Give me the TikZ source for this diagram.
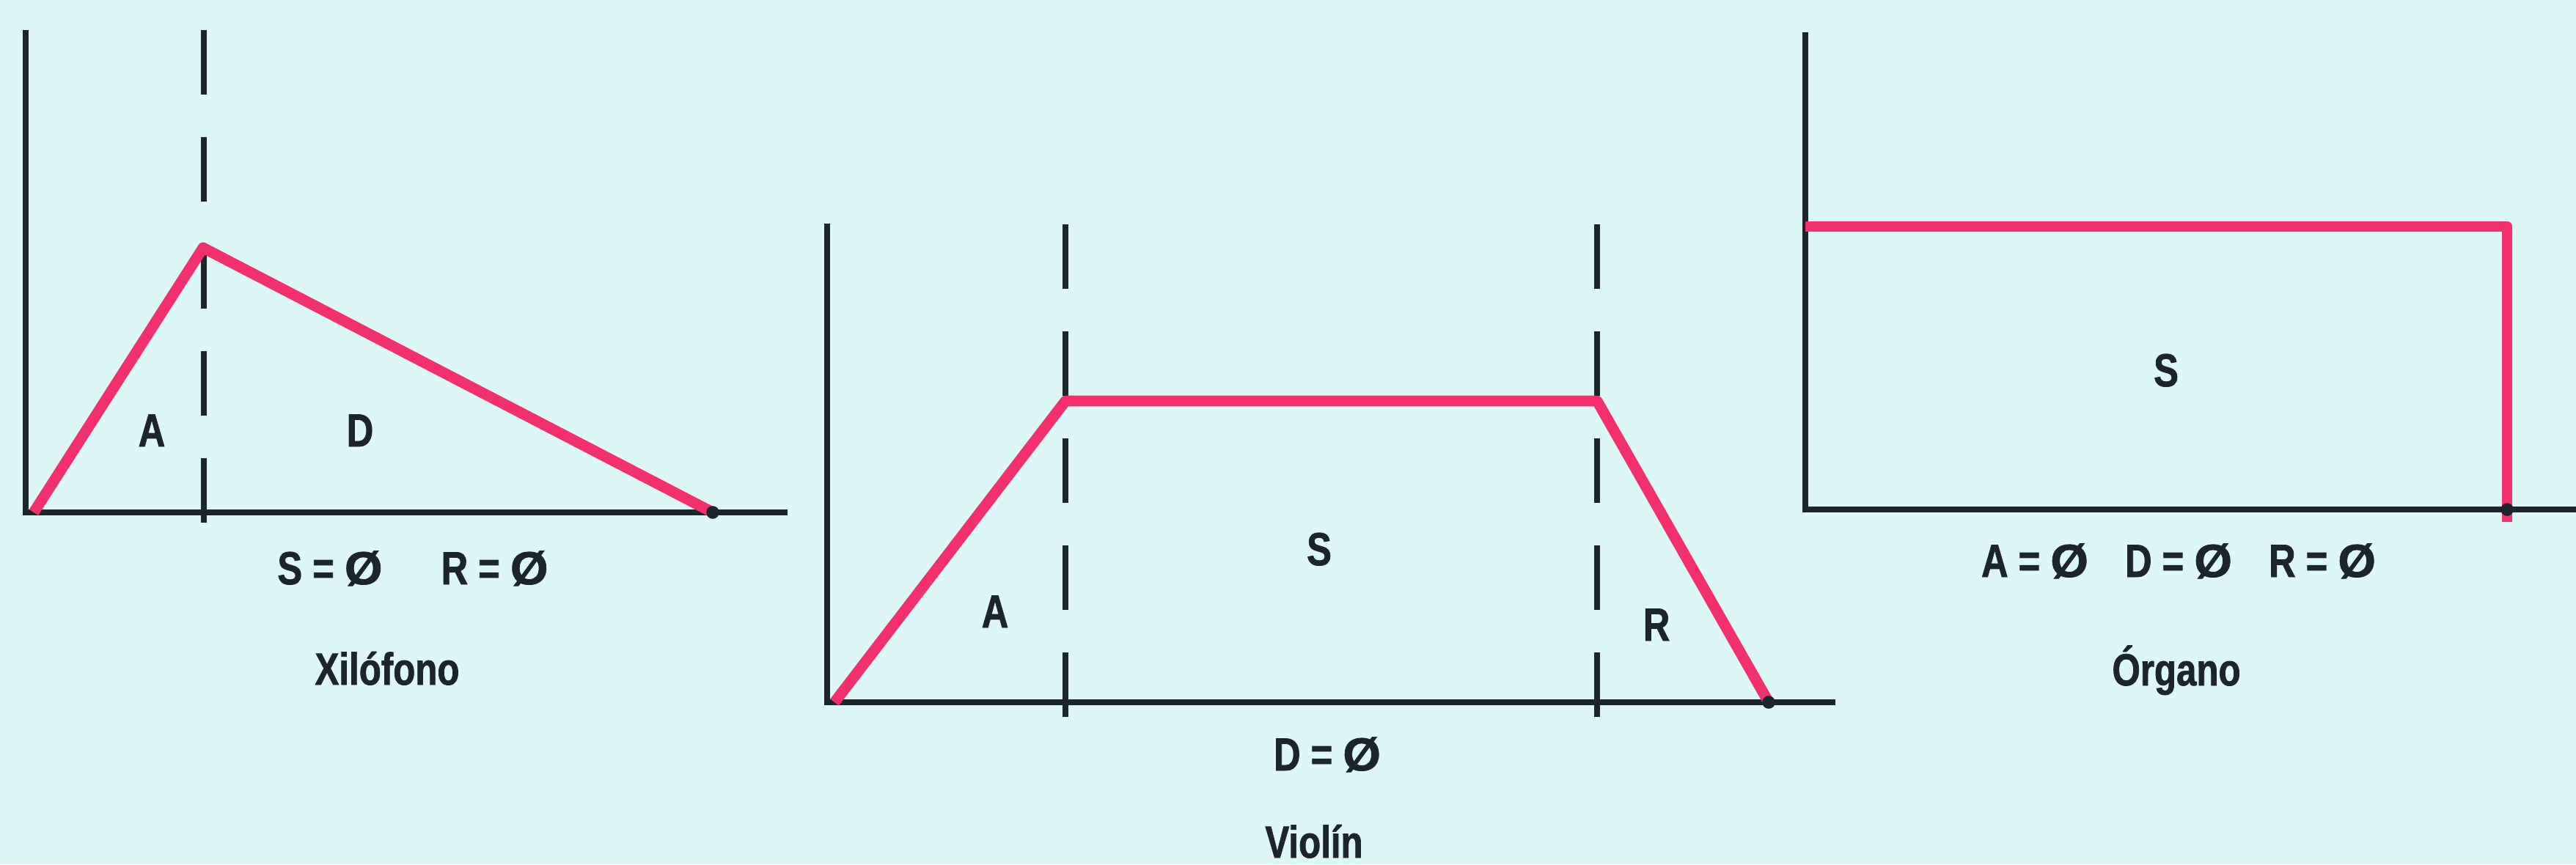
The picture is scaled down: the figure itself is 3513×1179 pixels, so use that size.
\documentclass[tikz,border=0pt]{standalone}
\usepackage{fontspec}
\setsansfont[FakeStretch=0.8,BoldFeatures={FakeBold=1.2}]{Liberation Sans}
\newfontfamily\widesans[FakeStretch=1.05,BoldFeatures={FakeBold=1.2}]{Liberation Sans}
\usepackage{tikz}
\usetikzlibrary{positioning}
\definecolor{paper}{HTML}{DDF6F6}
\definecolor{axisink}{HTML}{1C252B}
\definecolor{envpink}{HTML}{F2306E}
\newcommand{\nulo}{{\widesans\bfseries Ø}}
\tikzset{
  axisline/.style={draw=axisink,line width=2.3pt,line cap=rect},
  phaseline/.style={draw=axisink,line width=2.3pt,dash pattern=on 0.88cm off 0.58cm},
  envline/.style={draw=envpink,line width=4.2pt,line join=round},
  enddot/.style={fill=axisink},
  phaselabel/.style={font=\sffamily\bfseries\fontsize{18}{20}\selectfont,text=axisink,
    inner sep=0pt,anchor=base},
  caption/.style={font=\sffamily\bfseries\fontsize{17.5}{20}\selectfont,text=axisink,
    inner sep=0pt,anchor=base},
}

\begin{document}
\begin{tikzpicture}[x=0.01cm,y=-0.01cm]
  \useasboundingbox (0,0) rectangle (3513,1179);
  \fill[paper] (0,0) rectangle (3513,1179);

  \coordinate (xy) at (35,45);
  \coordinate (xo) at (35,699);
  \coordinate (xx) at (1070,699);
  \coordinate (xs) at (46,699);
  \coordinate (xp) at (277,338);
  \coordinate (xe) at (972,699);
  \coordinate (xdt) at (278,41);
  \coordinate (xdb) at (278,737);

  \draw[phaseline] (xdt) -- (xdb);
  \draw[axisline] (xy) -- (xo) -- (xx);
  \draw[envline] (xs) -- (xp) -- (xe);
  \fill[enddot] (xe) circle[radius=2.5pt];
  \node[phaselabel] (xa) at (207,609) {A};
  \node[phaselabel] (xd) at (491,609) {D};
  \node[phaselabel] (xsr) at (563,797) {S = \nulo\hspace{0.8cm}R = \nulo};
  \node[caption] (xcap) at (528,934) {Xilófono};

  \coordinate (vy) at (1128,309);
  \coordinate (vo) at (1128,958);
  \coordinate (vx) at (2499,958);
  \coordinate (vs) at (1138,958);
  \coordinate (va) at (1453,547);
  \coordinate (vb) at (2178,547);
  \coordinate (ve) at (2412,958);
  \coordinate (vdt) at (1453,306);
  \coordinate (vdb) at (1453,1005);
  \coordinate (vrt) at (2178,306);
  \coordinate (vrb) at (2178,1005);

  \draw[phaseline] (vdt) -- (vdb);
  \draw[phaseline] (vrt) -- (vrb);
  \draw[axisline] (vy) -- (vo) -- (vx);
  \draw[envline] (vs) -- (va) -- (vb) -- (ve);
  \fill[enddot] (ve) circle[radius=2.5pt];
  \node[phaselabel] (vat) at (1357,856) {A};
  \node[phaselabel] (vst) at (1799,771) {S};
  \node[phaselabel] (vrl) at (2259,874) {R};
  \node[phaselabel] (vdz) at (1810,1051) {D = \nulo};
  \node[caption] (vcap) at (1792,1170) {Violín};

  \coordinate (oy) at (2462,48);
  \coordinate (oo) at (2462,695);
  \coordinate (ox) at (3530,695);
  \coordinate (os) at (2462,309);
  \coordinate (oc) at (3419,309);
  \coordinate (oe) at (3419,712);

  \draw[axisline] (oy) -- (oo) -- (ox);
  \draw[envline] (os) -- (oc) -- (oe);
  \fill[enddot] (3419,695) circle[radius=2.5pt];
  \node[phaselabel] (ost) at (2954,527) {S};
  \node[phaselabel] (oadr) at (2971,787) {A = \nulo\hspace{0.5cm}D = \nulo\hspace{0.5cm}R = \nulo};
  \node[caption] (ocap) at (2968,935) {Órgano};
\end{tikzpicture}
\end{document}
